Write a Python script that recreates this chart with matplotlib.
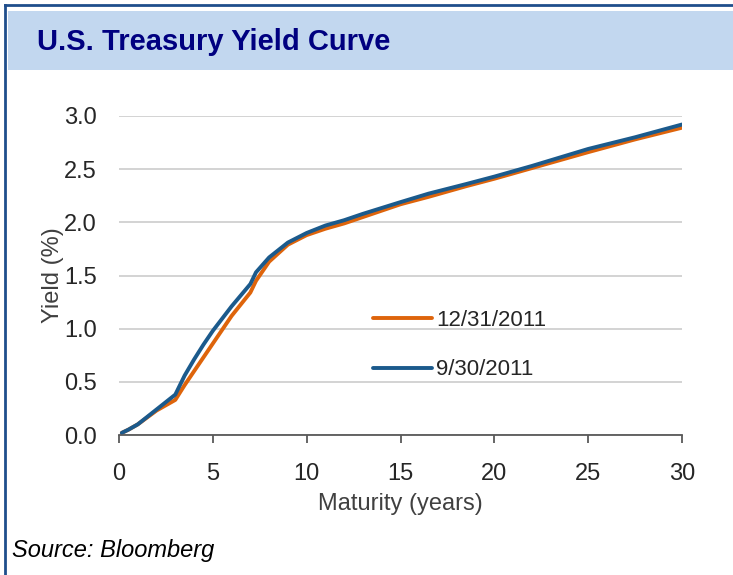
import matplotlib
matplotlib.use("Agg")
import matplotlib.pyplot as plt
from matplotlib.patches import Rectangle
from matplotlib.lines import Line2D

plt.rcParams['font.family'] = ['Liberation Sans', 'DejaVu Sans']

# Data
maturity = [0.15, 0.5, 1, 2, 3, 3.5, 4, 4.5, 5, 6, 7, 7.3, 8, 9, 10, 11, 12, 13, 15,
            16.5, 18.5, 20, 22, 25, 27.5, 30]
yield_dec = [0.02, 0.05, 0.10, 0.23, 0.33, 0.47, 0.60, 0.73, 0.86, 1.12, 1.34, 1.45, 1.63,
             1.79, 1.88, 1.94, 1.99, 2.05, 2.17, 2.24, 2.34, 2.41, 2.51, 2.66, 2.78, 2.89]
yield_sep = [0.02, 0.05, 0.10, 0.24, 0.38, 0.56, 0.71, 0.85, 0.98, 1.21, 1.42, 1.53, 1.67,
             1.81, 1.90, 1.97, 2.02, 2.08, 2.19, 2.27, 2.36, 2.43, 2.53, 2.69, 2.80, 2.92]
series_labels = ['12/31/2011', '9/30/2011']
x_ticks = [0, 5, 10, 15, 20, 25, 30]
y_ticks = [0.0, 0.5, 1.0, 1.5, 2.0, 2.5, 3.0]

W, H = 733, 575
fig = plt.figure(figsize=(W / 100, H / 100), dpi=100)
fig.patch.set_facecolor('white')

# Border lines (top and left)
border_col = '#1F4E8C'
fig.add_artist(Line2D([5 / W, 1.0], [1 - 5 / H, 1 - 5 / H], transform=fig.transFigure,
                      color=border_col, lw=2))
fig.add_artist(Line2D([5 / W, 5 / W], [0, 1 - 5 / H], transform=fig.transFigure,
                      color=border_col, lw=2))
# Banner
fig.add_artist(Rectangle((8 / W, 1 - 70 / H), 1 - 8 / W, 59 / H, transform=fig.transFigure,
                         facecolor='#C2D7EF', edgecolor='none'))
fig.text(37 / W, 1 - 42 / H, 'U.S. Treasury Yield Curve', fontsize=21, fontweight='bold',
         color='#000080', va='center', ha='left')

ax = fig.add_axes([119 / W, 1 - 435 / H, (682 - 119) / W, (435 - 116) / H])
orange = '#DE640B'
blue = '#1B5A8C'
ax.plot(maturity, yield_dec, color=orange, lw=2.8, label=series_labels[0],
        solid_capstyle='round', solid_joinstyle='round', zorder=3)
ax.plot(maturity, yield_sep, color=blue, lw=2.8, label=series_labels[1],
        solid_capstyle='round', solid_joinstyle='round', zorder=4)

ax.set_xlim(0, 30)
ax.set_ylim(0, 3.0)
ax.set_xticks(x_ticks)
ax.set_yticks(y_ticks)
ax.set_yticklabels([f'{v:.1f}' for v in y_ticks])
ax.grid(axis='y', color='#D0D0D0', lw=1.3)
ax.set_axisbelow(True)
for s in ['top', 'right', 'left']:
    ax.spines[s].set_visible(False)
ax.spines['bottom'].set_color('#595959')
ax.spines['bottom'].set_linewidth(1.3)
ax.tick_params(axis='x', direction='out', length=6, width=1.3, color='#595959',
               labelsize=17, labelcolor='#262626', pad=14)
ax.tick_params(axis='y', length=0, labelsize=17, labelcolor='#262626', pad=16)
ax.set_xlabel('Maturity (years)', fontsize=17, color='#404040', labelpad=6)
ax.set_ylabel('Yield (%)', fontsize=17, color='#404040', labelpad=0)

ax.legend(loc='center left', bbox_to_anchor=(0.451, 0.282), frameon=False, fontsize=16,
          handlelength=2.65, handletextpad=0.2, labelspacing=1.3, borderpad=0,
          borderaxespad=0, labelcolor='#262626')

fig.text(12 / W, 1 - 550 / H, 'Source: Bloomberg', fontsize=17, fontstyle='italic',
         color='black', va='center', ha='left')

fig.savefig('out.png', dpi=100)
